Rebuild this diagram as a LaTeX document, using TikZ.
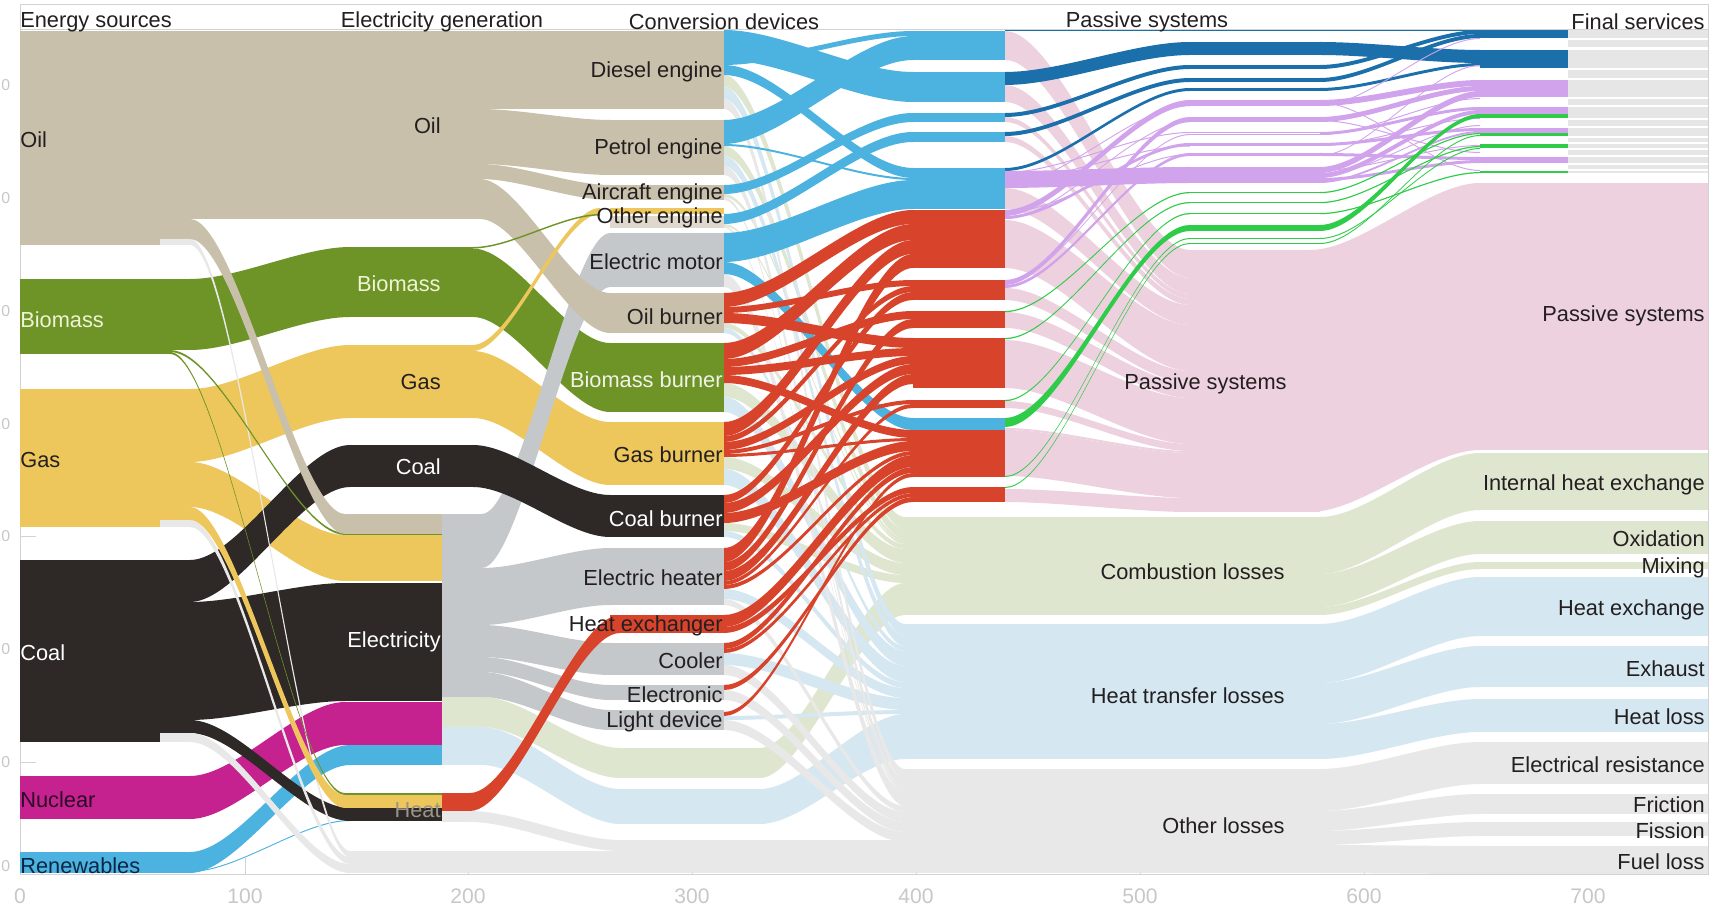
\documentclass[tikz,border=0pt]{standalone}
\usepackage{fontspec}
\setmainfont{Liberation Sans}
\newcommand\lnk[7]{\fill[#1] (#2,#3) .. controls ({#2+0.3*(#5-#2)},#3) and ({#5-0.3*(#5-#2)},#6) .. (#5,#6) -- (#5,{#6+#7}) .. controls ({#5-0.3*(#5-#2)},{#6+#7}) and ({#2+0.3*(#5-#2)},{#3+#4}) .. (#2,{#3+#4}) -- cycle;}
\begin{document}
\begin{tikzpicture}[x=0.02cm,y=-0.02cm,
  lbl/.style={font=\fontsize{12.4}{14}\selectfont,text=inkc,inner sep=0pt,yshift=-1.2pt},
  lbr/.style={lbl,anchor=east},
  lbll/.style={lbl,anchor=west},
  axl/.style={font=\fontsize{12}{14}\selectfont,text=axisc,inner sep=0pt}]
\definecolor{oilc}{HTML}{C9C0AB}
\definecolor{bioc}{HTML}{6E9428}
\definecolor{gasc}{HTML}{EDC75C}
\definecolor{coalc}{HTML}{2E2926}
\definecolor{nucc}{HTML}{C52290}
\definecolor{renc}{HTML}{4CB3E0}
\definecolor{elecc}{HTML}{C5C8CB}
\definecolor{heatc}{HTML}{D8442B}
\definecolor{motc}{HTML}{4CB3E0}
\definecolor{pinkc}{HTML}{EDD1DE}
\definecolor{combc}{HTML}{DFE6CF}
\definecolor{htc}{HTML}{D5E7F1}
\definecolor{otherc}{HTML}{E8E8E8}
\definecolor{dbluec}{HTML}{1B70AB}
\definecolor{purpc}{HTML}{D1A3EC}
\definecolor{greenc}{HTML}{2ECC48}
\definecolor{fingray}{HTML}{E6E6E6}
\definecolor{axisc}{HTML}{C8C8C8}
\definecolor{framec}{HTML}{D2D2D2}
\definecolor{inkc}{HTML}{231F20}
\definecolor{biotext}{HTML}{EEF4D4}
\fill[white] (0,0) rectangle (1725,908);
\useasboundingbox (0,0) rectangle (1725,908);
\draw[framec,line width=0.5pt] (20,4) -- (1708,4);
\draw[framec,line width=0.5pt] (20,29) -- (1708,29);
\draw[framec,line width=0.5pt] (20,4) -- (20,874) -- (1708,874) -- (1708,4);
\foreach \y in {85,198,311,424,536,649,762} {\draw[framec] (20,\y) -- (36,\y);}
\foreach \x in {245,468,692,916,1140,1364,1588} {\draw[framec] (\x,874) -- (\x,858);}
\foreach \v/\x in {0/20,100/245,200/468,300/692,400/916,500/1140,600/1364,700/1588}
  {\node[axl] (ax\v) at (\x,896) {\v};}
\foreach \y [count=\i] in {85,198,311,424,536,649,762,866}
  {\node[axl,anchor=west,font=\fontsize{9}{10}\selectfont] (yl\i) at (1,\y) {0};}

\foreach \ya/\h/\yb in {75/12/517,146/10/529,194/3/539,224/2/542,323/5/544,383/14/549,457/12/563,523/8/575}
  {\lnk{combc}{724}{\ya}{\h}{905}{\yb}{\h}}
\lnk{combc}{482}{697}{30}{620}{748}{30}
\fill[combc] (620,748) rectangle (760,778);
\lnk{combc}{760}{748}{30}{905}{583}{32}
\foreach \ya/\h/\yb in {87/12/624,156/10/636,328/5/646,397/15/651,469/16/666,531/6/682,589/10/688,653/12/698,716/4/710}
  {\lnk{htc}{724}{\ya}{\h}{905}{\yb}{\h}}
\lnk{htc}{482}{727}{38}{620}{789}{35}
\fill[htc] (620,789) rectangle (760,824);
\lnk{htc}{760}{789}{35}{905}{714}{45}
\foreach \ya/\h/\yb in {99/10/769,166/9/779,197/3/788,226/2/791,274/13/793,599/6/806,665/10/812,690/10/822,720/10/832}
  {\lnk{otherc}{724}{\ya}{\h}{905}{\yb}{\h}}
\fill[otherc] (350,851) rectangle (905,873);
\fill[otherc] (442,811) rectangle (470,822);
\lnk{otherc}{470}{811}{11}{620}{840}{11}
\fill[otherc] (620,840) rectangle (905,851);

\fill[combc] (905,517) rectangle (1320,615);
\fill[htc] (905,624) rectangle (1320,759);
\fill[otherc] (905,769) rectangle (1320,873);
\foreach \c/\ya/\ha/\yb/\hb in {combc/517/57/453/57,combc/574/33/521/33,combc/607/8/562/7,
  htc/624/59/577/59,htc/683/41/646/41,htc/724/35/699/33,
  otherc/769/42/742/42,otherc/811/20/794/20,otherc/831/14/822/14,otherc/845/28/846/28}
  {\lnk{\c}{1320}{\ya}{\ha}{1480}{\yb}{\hb}
   \fill[\c] (1480,\yb) rectangle (1708,{\yb+\hb});}

\fill[oilc] (20,31) rectangle (480,219);
\fill[oilc] (480,31) rectangle (610,109);
\fill[oilc] (20,219) rectangle (190,239);
\fill[oilc] (20,239) rectangle (160,245);
\fill[otherc] (160,239) rectangle (190,245);
\fill[bioc] (20,279) rectangle (190,350);
\fill[bioc] (20,350) rectangle (170,354);
\fill[gasc] (20,389) rectangle (190,520);
\fill[gasc] (20,520) rectangle (160,527);
\fill[otherc] (160,520) rectangle (190,527);
\fill[coalc] (20,560) rectangle (190,733);
\fill[coalc] (20,733) rectangle (160,742);
\fill[otherc] (160,733) rectangle (190,742);
\fill[nucc] (20,776) rectangle (190,819);
\fill[renc] (20,852) rectangle (190,873);

\lnk{gasc}{190}{462}{45}{345}{535}{46}
\fill[gasc] (345,535) rectangle (442,581);
\lnk{coalc}{190}{602}{118}{345}{583}{118}
\fill[coalc] (345,583) rectangle (442,701);
\lnk{nucc}{190}{776}{43}{345}{702}{43}
\fill[nucc] (345,702) rectangle (442,745);
\lnk{renc}{190}{852}{21}{350}{745}{20}
\fill[renc] (350,745) rectangle (442,765);
\lnk{renc}{190}{871}{1}{350}{820}{1}
\lnk{bioc}{190}{279}{71}{350}{247}{70}
\fill[bioc] (350,247) rectangle (473,317);
\lnk{gasc}{190}{389}{73}{350}{345}{73}
\fill[gasc] (350,345) rectangle (473,418);
\lnk{coalc}{190}{560}{42}{350}{445}{42}
\fill[coalc] (350,445) rectangle (473,487);
\lnk{coalc}{190}{720}{13}{350}{808}{13}
\fill[coalc] (350,808) rectangle (442,821);
\lnk{otherc}{190}{239}{6}{350}{851}{6}
\lnk{otherc}{190}{520}{7}{350}{857}{7}
\lnk{otherc}{190}{733}{9}{350}{864}{9}
\lnk{bioc}{170}{350}{2}{345}{533}{2}
\lnk{bioc}{170}{352}{2}{345}{793}{2}
\fill[bioc] (345,533) rectangle (442,535);
\fill[bioc] (345,793) rectangle (442,795);
\lnk{oilc}{190}{219}{20}{345}{514}{20}
\fill[oilc] (345,514) rectangle (442,534);
\lnk{gasc}{190}{507}{13}{345}{795}{13}
\fill[gasc] (345,795) rectangle (442,808);

\fill[elecc] (442,514) rectangle (482,697);
\fill[combc] (442,697) rectangle (482,727);
\fill[htc] (442,727) rectangle (482,765);
\foreach \ya/\ha/\yb/\hb in {568/57/548/57,625/32/643/32,657/15/685/15,672/25/710/20}
  {\lnk{elecc}{482}{\ya}{\ha}{610}{\yb}{\hb}}
\lnk{oilc}{480}{109}{55}{610}{120}{55}
\lnk{oilc}{480}{164}{15}{610}{185}{15}
\lnk{bioc}{473}{248.5}{68.5}{610}{343}{69}
\lnk{gasc}{473}{351}{67}{610}{422}{63}
\lnk{elecc}{482}{514}{54}{610}{233}{54}
\lnk{coalc}{473}{445}{42}{610}{495}{42}
\lnk{oilc}{480}{179}{40}{610}{293}{40}
\lnk{gasc}{473}{345}{6}{600}{208}{6}
\lnk{bioc}{473}{247}{1.5}{600}{214}{1.5}
\fill[heatc] (442,793) rectangle (470,811);
\lnk{heatc}{470}{793}{18}{620}{615}{18}

\foreach \c/\ya/\yb in {oilc/31/109,oilc/120/175,oilc/185/200,oilc/293/333,
  gasc/208/214,elecc/233/287,bioc/343/412,gasc/422/485,coalc/495/537,
  elecc/548/605,heatc/615/633,elecc/643/675,elecc/685/700,elecc/710/730}
  {\fill[\c] (610,\ya) rectangle (724,\yb);}
\fill[oilc!60] (610,216) rectangle (724,228);

\lnk{motc}{724}{262}{12}{913}{418}{12}
\foreach \ya/\yb/\h in {293/210/14,307/280/6,313/338/10,343/224/16,359/311/8,367/348/8,375/430/8,
  422/240/14,436/286/6,442/356/8,450/400/4,454/438/3,495/292/8,503/364/10,513/441/10,
  548/254/14,562/319/9,571/374/10,581/404/4,585/451/4,615/455/12,627/487/6,
  643/467/6,649/493/4,685/497/5,712/473/4}
  {\lnk{heatc}{724}{\ya}{\h}{913}{\yb}{\h}}
\foreach \ya/\yb/\h in {30/72/30,60/31/5,65/168/10,120/36/24,144/178/2,185/113/9,214/132/10,233/180/29}
  {\lnk{motc}{724}{\ya}{\h}{913}{\yb}{\h}}

\foreach \ya/\yb in {31/60,72/102,113/122,132/142,168/209,418/430}
  {\fill[motc] (913,\ya) rectangle (1005,\yb);}
\foreach \ya/\yb in {210/268,280/300,311/328,338/388,400/408,430/477,487/502}
  {\fill[heatc] (913,\ya) rectangle (1005,\yb);}

\foreach \ya/\ha/\yb/\hb in {31/29/250/28,85/17/278/16,117/5/294/5,136/6/299/6,188/21/305/20,
  220/48/325/46,288/12/371/12,312/16/383/15,340/48/398/46,401/7/444/7,428/2/451/2,
  430/46/453/45,489/13/498/14}
  {\lnk{pinkc}{1005}{\ya}{\ha}{1190}{\yb}{\hb}}
\fill[pinkc] (1190,250) rectangle (1320,512);
\lnk{pinkc}{1310}{250}{262}{1480}{183}{267}
\fill[pinkc] (1480,183) rectangle (1708,450);

\fill[dbluec] (1005,30) rectangle (1480,31.5);
\foreach \ya/\ha/\ym/\hm/\yc/\hc in {72/13/42/13/50/13,113/4/65/4/30/4,132/4/78/4/34/4,168/3/88/3/63/3}
  {\lnk{dbluec}{1005}{\ya}{\ha}{1190}{\ym}{\hm}
   \fill[dbluec] (1190,\ym) rectangle (1320,{\ym+\hm});
   \lnk{dbluec}{1320}{\ym}{\hm}{1480}{\yc}{\hc}}
\foreach \ya/\ha/\ym/\hm in {171/17/167/16,210/6/100/6,216/3/143/3,280/5/117/5,285/3/153/3,
  172/1/132/1,180/1/145.5/1,212/1/154/1,282/1/134/1,185/1/105/1,218/1/121/1}
  {\lnk{purpc}{1005}{\ya}{\ha}{1190}{\ym}{\hm}
   \fill[purpc] (1190,\ym) rectangle (1320,{\ym+\hm});}
\foreach \ym/\hm/\yc/\hc in {100/6/80/6,117/5/86/5,132/3/107/3,143/3/128/3,153/3/157/3,
  167/6/91/6,173/5/110/4,178/3/160/3,181/2/131/2,
  105/1/38/1,120/1/152/1,134/1/98/1,145/1/118/1,155/1/65/1,170/1/145/1,175/1/125/1,102/1/170/1}
  {\lnk{purpc}{1320}{\ym}{\hm}{1480}{\yc}{\hc}}
\foreach \ya/\ha/\ym/\hm/\yc/\hc in {311/1.2/192/1.2/133/1.2,338/1.2/202/1.2/146/1.2,400/1.2/213/1.2/172/1.2,
  418/9/225/6/114/4,476/1/238/1/148/1,487/1/243/1/135/1}
  {\lnk{greenc}{1005}{\ya}{\ha}{1190}{\ym}{\hm}
   \fill[greenc] (1190,\ym) rectangle (1320,{\ym+\hm});
   \lnk{greenc}{1320}{\ym}{\hm}{1480}{\yc}{\hc}}

\foreach \c/\ya/\yb in {dbluec/30/38,dbluec/50/68,purpc/80/97,purpc/107/114,greenc/114/118,
  purpc/128/133,greenc/133/136,greenc/144/148,purpc/157/163,greenc/171/173}
  {\fill[\c] (1480,\ya) rectangle (1568,\yb);}
\foreach \ya/\yb in {30/38,40/47,50/68,70/78,80/97,99/105,107/118,120/126,128/136,138/142,144/148,150/155,157/163,165/169,171/173}
  {\fill[fingray] (1568,\ya) rectangle (1708,\yb);}

\node[lbll] (hd-src) at (20,20) {Energy sources};
\node[lbl] (hd-gen) at (442,20) {Electricity generation};
\node[lbl] (hd-conv) at (724,20) {Conversion devices};
\node[lbl] (hd-pas) at (1147,20) {Passive systems};
\node[lbr] (hd-fin) at (1705,20) {Final services};

\node[lbll] (src-oil) at (20,138) {Oil};
\node[lbll,text=biotext] (src-bio) at (20,318) {Biomass};
\node[lbll] (src-gas) at (20,458) {Gas};
\node[lbll,text=white] (src-coal) at (20,651) {Coal};
\node[lbll,text={rgb,255:red,42;green,10;blue,37}] (src-nuc) at (20,798) {Nuclear};
\node[lbll,text={rgb,255:red,11;green,37;blue,69}] (src-ren) at (20,864) {Renewables};

\node[lbr] (gen-oil) at (441,124) {Oil};
\node[lbr,text=biotext] (gen-bio) at (441,282) {Biomass};
\node[lbr] (gen-gas) at (441,380) {Gas};
\node[lbr,text=white] (gen-coal) at (441,465) {Coal};
\node[lbr,text=white] (gen-elec) at (441,640) {Electricity};
\node[lbr,text={rgb,255:red,154;green,148;blue,138}] (gen-heat) at (441,808) {Heat};

\foreach \t/\y/\n in {Diesel engine/70/diesel,Petrol engine/147/petrol,Aircraft engine/192/aircraft,
  Other engine/216/other,Electric motor/260/motor,Oil burner/315/oilb,Gas burner/453/gasb,
  Electric heater/576/heater,Heat exchanger/624/hex,Cooler/659/cooler,Electronic/693/electronic,
  Light device/720/light}
  {\node[lbr] (dev-\n) at (723,\y) {\t};}
\node[lbr,text={rgb,255:red,242;green,242;blue,232}] (dev-biob) at (723,378) {Biomass burner};
\node[lbr,text=white] (dev-coalb) at (723,517) {Coal burner};

\node[lbr] (pas-pas) at (1287,382) {Passive systems};
\node[lbr] (pas-comb) at (1285,570) {Combustion losses};
\node[lbr] (pas-ht) at (1285,694) {Heat transfer losses};
\node[lbr] (pas-other) at (1285,824) {Other losses};

\foreach \t/\y/\n in {Passive systems/314/pas,Internal heat exchange/483/ihe,Oxidation/537/oxi,
  Mixing/566/mix,Heat exchange/608/hex,Exhaust/667/exh,Heat loss/715/hl,
  Electrical resistance/763/er,Friction/803/fri,Fission/829/fis,Fuel loss/860/fuel}
  {\node[lbr] (fin-\n) at (1705,\y) {\t};}
\end{tikzpicture}
\end{document}
